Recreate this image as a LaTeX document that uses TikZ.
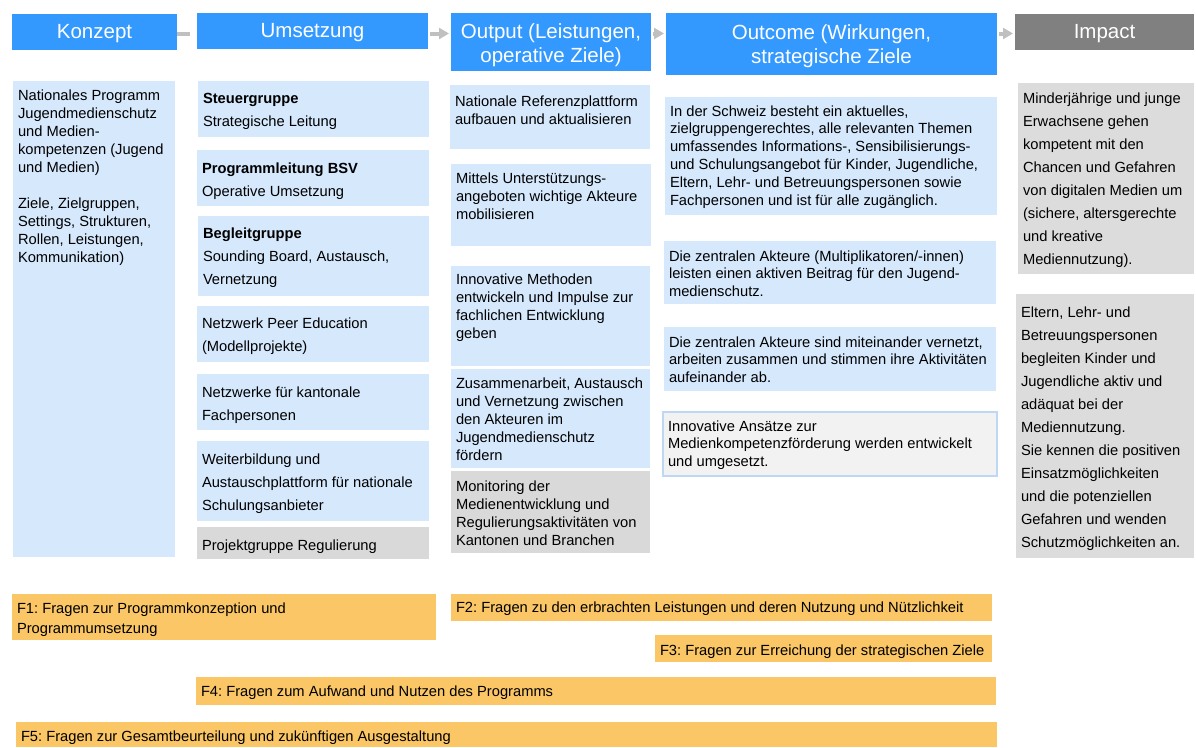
\documentclass[tikz,border=0pt]{standalone}
\usepackage{fontspec}
\setmainfont{Liberation Sans}
\usetikzlibrary{arrows.meta}
\frenchspacing
\definecolor{hblue}{HTML}{3399FF}
\definecolor{lblue}{HTML}{D5E8FC}
\definecolor{gbox}{HTML}{D9D9D9}
\definecolor{ibox}{HTML}{DCDCDC}
\definecolor{obox}{HTML}{FAC666}
\definecolor{tbox}{HTML}{F2F2F2}
\definecolor{tborder}{HTML}{BDD7F5}
\definecolor{igray}{HTML}{808080}
\definecolor{agray}{HTML}{C0C0C0}
\tikzset{
  hdr/.style={fill=hblue, inner sep=0pt, outer sep=0pt, anchor=north west},
  htx/.style={text=white, inner sep=0pt, outer sep=0pt, align=center,
    font=\fontsize{20.5}{24.5}\selectfont},
  box/.style={inner sep=0pt, outer sep=0pt},
  lb/.style={box, fill=lblue},
  gb/.style={box, fill=gbox},
  ib/.style={box, fill=ibox},
  ob/.style={box, fill=obox},
  tb/.style={box, fill=tbox, draw=tborder, line width=1.5pt},
  tx/.style={inner sep=0pt, outer sep=0pt, font=\fontsize{14.7}{18}\selectfont},
  txo/.style={tx, font=\fontsize{14.7}{17.8}\selectfont},
  txw/.style={tx, font=\fontsize{14.7}{23}\selectfont},
  txf/.style={tx, font=\fontsize{14.7}{20}\selectfont},
  arr/.style={draw=agray, line width=4pt, -{Triangle[length=10pt,width=11pt]},
    shorten <=2pt, shorten >=2pt},
  conn/.style={draw=agray, line width=4pt}
}
% name, box style, text style, x1, y1, x2, y2, baseline offset, content
\newcommand\cell[9]{%
  \node[#2, anchor=north west, minimum width={(#6-#4)*1pt}, minimum height={(#7-#5)*1pt}] (#1) at (#4,#5) {};
  \node[#3, anchor=base west] (#1-t) at ([shift={(5,#8)}]#1.north west)
    {\parbox[t]{\dimexpr #6pt-#4pt-8pt\relax}{\raggedright #9}};
}
\begin{document}
\begin{tikzpicture}[x=1pt,y=-1pt]
\useasboundingbox (0,0) rectangle (1196,747);
% headers
\node[hdr, minimum width=165pt, minimum height=36pt] (h1) at (12,14) {};
\node[htx] (h1-t) at ([yshift=-2pt]h1.center) {Konzept};
\node[hdr, minimum width=231pt, minimum height=36pt] (h2) at (197,13) {};
\node[htx] (h2-t) at ([yshift=-2pt]h2.center) {Umsetzung};
\node[hdr, minimum width=200pt, minimum height=58pt] (h3) at (451,13) {};
\node[htx] (h3-t) at ([yshift=-3pt]h3.center) {Output (Leistungen,\\operative Ziele)};
\node[hdr, minimum width=331pt, minimum height=62pt] (h4) at (666,13) {};
\node[htx] (h4-t) at ([yshift=-2pt]h4.center) {Outcome (Wirkungen,\\strategische Ziele};
\node[hdr, fill=igray, minimum width=179pt, minimum height=36pt] (h5) at (1015,14) {};
\node[htx] (h5-t) at ([yshift=-2pt]h5.center) {Impact};
\coordinate (ay) at (0,33.5);
\coordinate (k1) at (190,33.5);
\draw[conn] (h1.east |- ay) -- (k1);
\draw[arr] (h2.east |- ay) -- (h3.west |- ay);
\draw[arr] (h3.east |- ay) -- (h4.west |- ay);
\draw[arr] (h4.east |- ay) -- (h5.west |- ay);
% Konzept
\cell{k}{lb}{tx}{13}{81}{175}{557}{19}{Nationales Programm\\Jugendmedienschutz\\und Medien-\\kompetenzen (Jugend\\und Medien)\\[18pt]Ziele, Zielgruppen,\\Settings, Strukturen,\\Rollen, Leistungen,\\Kommunikation)}
% Umsetzung
\cell{u1}{lb}{txw}{198}{81}{429}{137}{22}{\textbf{Steuergruppe}\\Strategische Leitung}
\cell{u2}{lb}{txw}{197}{150}{429}{206}{23}{\textbf{Programmleitung BSV}\\Operative Umsetzung}
\cell{u3}{lb}{txw}{198}{216}{429}{296}{22}{\textbf{Begleitgruppe}\\Sounding Board, Austausch,\\Vernetzung}
\cell{u4}{lb}{txw}{197}{306}{429}{362}{22}{Netzwerk Peer Education\\(Modellprojekte)}
\cell{u5}{lb}{txw}{197}{374}{429}{430}{23}{Netzwerke für kantonale\\Fachpersonen}
\cell{u6}{lb}{txw}{197}{441}{429}{521}{23}{Weiterbildung und\\Austauschplattform für nationale\\Schulungsanbieter}
\cell{u7}{gb}{txw}{197}{527}{429}{559}{23}{Projektgruppe Regulierung}
% Output
\cell{o1}{lb}{tx}{450}{85}{650}{149}{21}{Nationale Referenzplattform\\aufbauen und aktualisieren}
\cell{o2}{lb}{tx}{451}{164}{651}{246}{19}{Mittels Unterstützungs-\\angeboten wichtige Akteure\\mobilisieren}
\cell{o3}{lb}{tx}{451}{266}{650}{366}{18}{Innovative Methoden\\entwickeln und Impulse zur\\fachlichen Entwicklung\\geben}
\cell{o4}{lb}{tx}{451}{369}{650}{468}{19}{Zusammenarbeit, Austausch\\und Vernetzung zwischen\\den Akteuren im\\Jugendmedienschutz\\fördern}
\cell{o5}{gb}{tx}{451}{471}{650}{553}{20}{Monitoring der\\Medienentwicklung und\\Regulierungsaktivitäten von\\Kantonen und Branchen}
% Outcome
\cell{c1}{lb}{txo}{665}{97}{997}{215}{19}{In der Schweiz besteht ein aktuelles,\\zielgruppengerechtes, alle relevanten Themen\\umfassendes Informations-, Sensibilisierungs-\\und Schulungsangebot für Kinder, Jugendliche,\\Eltern, Lehr- und Betreuungspersonen sowie\\Fachpersonen und ist für alle zugänglich.}
\cell{c2}{lb}{txo}{664}{241}{996}{304}{20}{Die zentralen Akteure (Multiplikatoren/-innen)\\leisten einen aktiven Beitrag für den Jugend-\\medienschutz.}
\cell{c3}{lb}{txo}{664}{327}{996}{391}{20}{Die zentralen Akteure sind miteinander vernetzt,\\arbeiten zusammen und stimmen ihre Aktivitäten\\aufeinander ab.}
\cell{c4}{tb}{txo}{663}{412}{997}{476}{19}{Innovative Ansätze zur\\Medienkompetenzförderung werden entwickelt\\und umgesetzt.}
% Impact
\cell{i1}{ib}{txw}{1018}{83}{1194}{274}{20}{Minderjährige und junge\\Erwachsene gehen\\kompetent mit den\\Chancen und Gefahren\\von digitalen Medien um\\(sichere, altersgerechte\\und kreative\\Mediennutzung).}
\cell{i2}{ib}{txw}{1016}{294}{1194}{558}{23}{Eltern, Lehr- und\\Betreuungspersonen\\begleiten Kinder und\\Jugendliche aktiv und\\adäquat bei der\\Mediennutzung.\\Sie kennen die positiven\\Einsatzmöglichkeiten\\und die potenziellen\\Gefahren und wenden\\Schutzmöglichkeiten an.}
% Questions
\cell{f1}{ob}{txf}{12}{594}{436}{640}{19}{F1: Fragen zur Programmkonzeption und\\Programmumsetzung}
\cell{f2}{ob}{txf}{451}{594}{992}{621}{18}{F2: Fragen zu den erbrachten Leistungen und deren Nutzung und Nützlichkeit}
\cell{f3}{ob}{txf}{655}{635}{992}{662}{20}{F3: Fragen zur Erreichung der strategischen Ziele}
\cell{f4}{ob}{txf}{196}{677}{996}{705}{19}{F4: Fragen zum Aufwand und Nutzen des Programms}
\cell{f5}{ob}{txf}{16}{722}{997}{747}{19}{F5: Fragen zur Gesamtbeurteilung und zukünftigen Ausgestaltung}
\end{tikzpicture}
\end{document}
